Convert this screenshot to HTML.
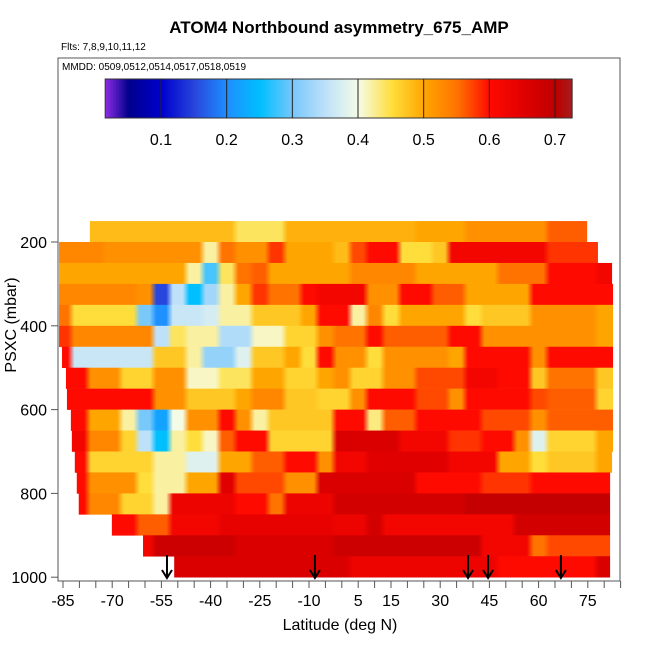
<!DOCTYPE html>
<html><head><meta charset="utf-8"><style>
html,body{margin:0;padding:0;background:#fff;}
svg{display:block;font-family:"Liberation Sans",sans-serif;}
</style></head><body>
<svg id="chart" width="650" height="650" viewBox="0 0 650 650">
<defs id="defs"></defs>
<text x="339" y="33" text-anchor="middle" font-size="17" font-weight="bold">ATOM4 Northbound asymmetry_675_AMP</text>
<text x="61" y="50" font-size="10">Flts: 7,8,9,10,11,12</text>
<g id="heat"></g>
<g id="arrows"></g>
<rect x="58" y="58" width="562" height="523" fill="none" stroke="#555" stroke-width="1"/>
<text x="62" y="70" font-size="10">MMDD: 0509,0512,0514,0517,0518,0519</text>
<g id="cbar"></g>
<g id="axes"></g>
<text x="340" y="630" text-anchor="middle" font-size="16">Latitude (deg N)</text>
<text transform="translate(16,325) rotate(-90)" text-anchor="middle" font-size="16">PSXC (mbar)</text>
</svg>
<script>
const latCenters = [-85,-80,-75,-70,-65,-60,-55,-50,-45,-40,-35,-30,-25,-20,-15,-10,-5,0,5,10,15,20,25,30,35,40,45,50,55,60,65,70,75,80];
const pressTop = [150,200,250,300,350,400,450,500,550,600,650,700,750,800,850,900,950];
const rowStartLat = [-76.8,-86.2,-86.2,-86.2,-86.2,-86.2,-85.3,-84.1,-83.8,-82.6,-82.3,-81.4,-80.8,-80.2,-70.1,-60.6,-51.1];
const rowEndLat = [74.8,78.1,82.4,82.7,82.7,82.7,82.7,82.7,82.7,82.7,82.7,82.4,81.8,81.8,81.8,81.8,81.8];
const row0 = [.48,.48,.48,.48,.48,.48,.48,.48,.48,.48,.48,.44,.44,.44,.49,.49,.49,.49,.49,.49,.49,.49,.5,.5,.5,.52,.52,.52,.52,.52,.56,.56,.56,.56];
const row1 = [.53,.53,.53,.52,.52,.52,.52,.52,.52,.42,.55,.52,.52,.58,.5,.5,.5,.48,.57,.6,.6,.45,.45,.47,.62,.62,.62,.62,.62,.62,.58,.58,.58,.58];
const row2 = [.5,.5,.5,.5,.5,.5,.5,.5,.42,.28,.44,.55,.56,.5,.5,.5,.5,.5,.53,.53,.53,.53,.5,.5,.5,.5,.5,.55,.55,.55,.6,.6,.6,.62];
const row3 = [.53,.53,.53,.53,.53,.52,.15,.35,.25,.33,.42,.5,.58,.55,.55,.6,.62,.62,.62,.52,.52,.6,.6,.56,.56,.5,.5,.5,.5,.6,.6,.6,.6,.6];
const row4 = [.55,.45,.45,.45,.45,.3,.2,.36,.36,.37,.42,.42,.47,.47,.47,.5,.6,.6,.42,.53,.45,.5,.5,.5,.5,.45,.47,.47,.47,.52,.52,.52,.52,.5];
const row5 = [.58,.53,.53,.53,.53,.53,.35,.44,.42,.42,.34,.34,.41,.41,.46,.46,.52,.55,.55,.6,.56,.56,.56,.56,.6,.6,.52,.52,.52,.52,.52,.52,.52,.5];
const row6 = [.6,.36,.36,.36,.36,.36,.47,.47,.42,.32,.32,.38,.47,.47,.5,.45,.6,.52,.52,.45,.52,.52,.52,.52,.5,.6,.6,.6,.6,.52,.6,.6,.6,.6];
const row7 = [.6,.6,.52,.52,.46,.46,.52,.52,.41,.41,.44,.44,.5,.5,.46,.46,.5,.52,.46,.46,.52,.52,.57,.57,.57,.62,.62,.6,.6,.47,.55,.55,.55,.47];
const row8 = [.6,.6,.6,.6,.6,.6,.52,.52,.47,.47,.47,.5,.53,.53,.47,.47,.46,.46,.52,.6,.6,.6,.57,.57,.52,.6,.6,.6,.6,.57,.56,.56,.56,.46];
const row9 = [.6,.6,.5,.5,.42,.3,.22,.4,.52,.52,.6,.52,.42,.47,.47,.47,.47,.6,.6,.43,.56,.56,.6,.6,.6,.6,.57,.57,.57,.52,.56,.56,.56,.56];
const row10 = [.62,.62,.53,.53,.46,.35,.25,.42,.45,.41,.56,.6,.6,.46,.46,.46,.46,.66,.66,.66,.66,.62,.62,.62,.58,.58,.6,.6,.52,.38,.46,.46,.46,.5];
const row11 = [.6,.6,.46,.46,.46,.46,.42,.42,.38,.38,.5,.5,.56,.56,.6,.6,.52,.62,.62,.65,.65,.65,.65,.65,.62,.62,.62,.5,.5,.45,.47,.47,.47,.5];
const row12 = [.6,.6,.52,.52,.52,.45,.42,.42,.5,.5,.65,.57,.57,.57,.52,.52,.66,.66,.66,.66,.66,.66,.6,.6,.6,.6,.58,.58,.58,.6,.6,.6,.6,.6];
const row13 = [.6,.6,.53,.53,.46,.46,.42,.63,.63,.63,.63,.6,.6,.55,.63,.63,.63,.67,.67,.67,.67,.67,.67,.67,.67,.69,.69,.69,.69,.69,.69,.69,.69,.69];
const row14 = [.6,.6,.6,.6,.6,.56,.56,.62,.62,.62,.64,.64,.64,.64,.64,.64,.64,.63,.63,.67,.62,.62,.62,.62,.62,.62,.62,.62,.67,.67,.67,.67,.67,.67];
const row15 = [.62,.62,.62,.62,.62,.62,.68,.68,.68,.68,.68,.66,.66,.66,.66,.66,.66,.68,.68,.68,.68,.68,.68,.68,.68,.68,.62,.62,.62,.55,.57,.57,.57,.57];
const row16 = [.66,.66,.66,.66,.66,.66,.66,.66,.66,.66,.66,.66,.66,.66,.66,.66,.66,.66,.63,.63,.63,.63,.63,.63,.63,.63,.63,.6,.6,.6,.6,.6,.6,.66];
const rows = [row0,row1,row2,row3,row4,row5,row6,row7,row8,row9,row10,row11,row12,row13,row14,row15,row16];
const arrowLats = [-53.3,-8.2,38.5,44.6,66.8];
const xTickLabels = [-85,-70,-55,-40,-25,-10,5,15,30,45,60,75];
const yTickLabels = [200,400,600,800,1000];
const cbarTicks = [0.1,0.2,0.3,0.4,0.5,0.6,0.7];
const cbarMin = 0.015, cbarMax = 0.726;

const NS = "http://www.w3.org/2000/svg";
const xScale = lat => 63 + (lat + 85) * 3.28;
const yScale = p => 242 + (p - 200) * 0.419;
const cScale = v => 161 + (v - 0.1) * 656.7;
const stops = [[0.015,[138,43,226]],[0.05,[0,0,139]],[0.1,[0,0,205]],[0.15,[40,70,220]],[0.2,[30,144,255]],[0.25,[0,191,255]],[0.3,[120,200,250]],[0.35,[190,225,250]],[0.4,[245,252,230]],[0.45,[255,222,60]],[0.5,[255,165,0]],[0.55,[255,115,0]],[0.6,[255,10,0]],[0.65,[225,0,0]],[0.7,[190,0,0]],[0.726,[165,30,30]]];
function color(v){
  if(v<=stops[0][0]) return 'rgb('+stops[0][1]+')';
  for(let i=1;i<stops.length;i++){
    if(v<=stops[i][0]){const a=stops[i-1],b=stops[i],t=(v-a[0])/(b[0]-a[0]);
      return 'rgb('+a[1].map((c,k)=>Math.round(c+(b[1][k]-c)*t)).join(',')+')';}
  }
  return 'rgb('+stops[stops.length-1][1]+')';
}
function mk(tag, attrs, parent){const e=document.createElementNS(NS,tag);for(const k in attrs)e.setAttribute(k,attrs[k]);parent.appendChild(e);return e;}

const heat=document.getElementById('heat');
const defs=document.getElementById('defs');
rows.forEach((vals,r)=>{
  const y0=yScale(pressTop[r]), y1=yScale(pressTop[r]+50);
  const x0=xScale(rowStartLat[r]), x1=xScale(rowEndLat[r]);
  const gid='rg'+r;
  const grad=mk('linearGradient',{id:gid,gradientUnits:'userSpaceOnUse',x1:x0,y1:0,x2:x1,y2:0},defs);
  vals.forEach((v,j)=>{
    const a=latCenters[j]-2.5, b=latCenters[j]+2.5;
    [a+1,b-1].forEach(l=>{
      let off=(xScale(l)-x0)/(x1-x0);
      off=Math.max(0,Math.min(1,off));
      mk('stop',{offset:off.toFixed(4),'stop-color':color(v)},grad);
    });
  });
  const band=mk('rect',{x:x0.toFixed(2),y:y0.toFixed(2),width:(x1-x0).toFixed(2),height:(y1-y0+0.3).toFixed(2),fill:'url(#'+gid+')'},heat);
  
  
});

const arr=document.getElementById('arrows');
arrowLats.forEach(l=>{
  const x=xScale(l);
  const g=mk('g',{},arr);
  
  
  mk('line',{x1:x,y1:555,x2:x,y2:577,stroke:'#000','stroke-width':2},g);
  mk('path',{d:`M${x-5},570 L${x},578 L${x+5},570`,fill:'none',stroke:'#000','stroke-width':2},g);
});

const cb=document.getElementById('cbar');
for(let i=0;i<300;i++){
  const v=cbarMin+(cbarMax-cbarMin)*i/300, v2=cbarMin+(cbarMax-cbarMin)*(i+1)/300;
  const s=mk('rect',{x:cScale(v),y:79,width:cScale(v2)-cScale(v)+0.5,height:39,fill:color(v)},cb);
  
  
}
mk('rect',{x:cScale(cbarMin),y:79,width:cScale(cbarMax)-cScale(cbarMin),height:39,fill:'none',stroke:'#333'},cb);
cbarTicks.forEach(t=>{
  const x=cScale(t);
  mk('line',{x1:x,y1:79,x2:x,y2:118,stroke:'#222','stroke-width':1},cb);
  const tx=mk('text',{x:x,y:145,'text-anchor':'middle','font-size':16},cb);
  tx.textContent=t.toFixed(1);
  
  
});

const ax=document.getElementById('axes');
for(let l=-85;l<=85;l+=5){
  const x=xScale(l);
  mk('line',{x1:x,y1:581,x2:x,y2:588,stroke:'#555'},ax);
}
xTickLabels.forEach(l=>{
  const t=mk('text',{x:xScale(l),y:606,'text-anchor':'middle','font-size':16},ax);
  t.textContent=l;
  
  
});
yTickLabels.forEach(p=>{
  const y=yScale(p);
  mk('line',{x1:51,y1:y,x2:58,y2:y,stroke:'#555'},ax);
  const t=mk('text',{x:47,y:y+6,'text-anchor':'end','font-size':16},ax);
  t.textContent=p;
  
  
});
</script>
</body></html>
